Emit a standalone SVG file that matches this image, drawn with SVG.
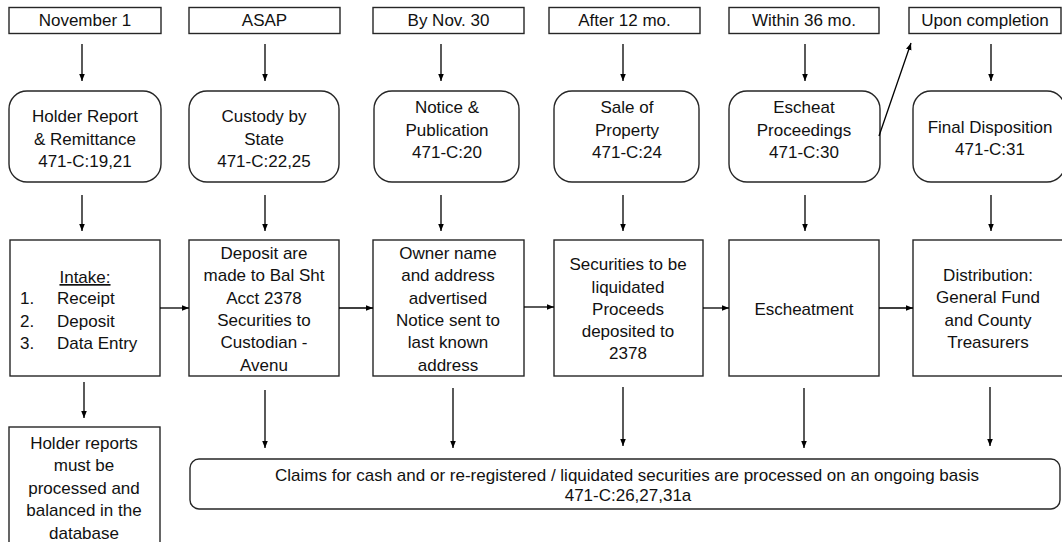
<svg xmlns="http://www.w3.org/2000/svg" width="1062" height="542" viewBox="0 0 1062 542">
<defs>
<marker id="ah" viewBox="0 0 10 10" refX="10" refY="5" markerWidth="7" markerHeight="7" markerUnits="userSpaceOnUse" orient="auto"><path d="M0,1 L10,5 L0,9 Z" fill="#000"/></marker>
<style>
.box{fill:#fff;stroke:#262626;stroke-width:1.4}
.t{font-family:"Liberation Sans",Arial,sans-serif;font-size:17px;fill:#111;text-anchor:middle}
.tl{font-family:"Liberation Sans",Arial,sans-serif;font-size:17px;fill:#111}
.c{stroke:#000;stroke-width:1.3;fill:none;marker-end:url(#ah)}
</style>
</defs>
<rect width="1062" height="542" fill="#fff"/>
<g id="top1"><rect class="box" x="9" y="7.5" width="152" height="26"/><text class="t" x="85" y="26">November 1</text></g>
<g id="top2"><rect class="box" x="189" y="7.5" width="151" height="26"/><text class="t" x="264.5" y="26">ASAP</text></g>
<g id="top3"><rect class="box" x="373" y="7.5" width="151" height="26"/><text class="t" x="448.5" y="26">By Nov. 30</text></g>
<g id="top4"><rect class="box" x="549" y="7.5" width="151" height="26"/><text class="t" x="624.5" y="26">After 12 mo.</text></g>
<g id="top5"><rect class="box" x="729" y="7.5" width="150" height="26"/><text class="t" x="804" y="26">Within 36 mo.</text></g>
<g id="top6"><rect class="box" x="909" y="7.5" width="152" height="26"/><text class="t" x="985" y="26">Upon completion</text></g>

<g id="step1"><rect class="box" x="9" y="91" width="152" height="91" rx="18"/><text class="t" x="85" y="122">Holder Report</text><text class="t" x="85" y="144.5">&amp; Remittance</text><text class="t" x="85" y="167">471-C:19,21</text></g>
<g id="step2"><rect class="box" x="189" y="91" width="150" height="91" rx="18"/><text class="t" x="264" y="122">Custody by</text><text class="t" x="264" y="144.5">State</text><text class="t" x="264" y="167">471-C:22,25</text></g>
<g id="step3"><rect class="box" x="374" y="91" width="145" height="91" rx="18"/><text class="t" x="447" y="113">Notice &amp;</text><text class="t" x="447" y="136">Publication</text><text class="t" x="447" y="158">471-C:20</text></g>
<g id="step4"><rect class="box" x="554" y="91" width="145" height="91" rx="18"/><text class="t" x="627" y="113">Sale of</text><text class="t" x="627" y="136">Property</text><text class="t" x="627" y="158">471-C:24</text></g>
<g id="step5"><rect class="box" x="729" y="91" width="151" height="91" rx="18"/><text class="t" x="804" y="113">Escheat</text><text class="t" x="804" y="136">Proceedings</text><text class="t" x="804" y="158">471-C:30</text></g>
<g id="step6"><rect class="box" x="913" y="91" width="152" height="91" rx="18"/><text class="t" x="990" y="133">Final Disposition</text><text class="t" x="990" y="155">471-C:31</text></g>

<g id="detail1"><rect class="box" x="10" y="240" width="150" height="136"/><text class="t" x="85" y="283" text-decoration="underline">Intake:</text><text class="tl" x="20" y="304">1.</text><text class="tl" x="57" y="304">Receipt</text><text class="tl" x="20" y="327">2.</text><text class="tl" x="57" y="327">Deposit</text><text class="tl" x="20" y="349">3.</text><text class="tl" x="57" y="349">Data Entry</text></g>
<g id="detail2"><rect class="box" x="189" y="240" width="150" height="136"/><text class="t" x="264" y="259">Deposit are</text><text class="t" x="264" y="281">made to Bal Sht</text><text class="t" x="264" y="304">Acct 2378</text><text class="t" x="264" y="326">Securities to</text><text class="t" x="264" y="348">Custodian -</text><text class="t" x="264" y="371">Avenu</text></g>
<g id="detail3"><rect class="box" x="373" y="240" width="151" height="136"/><text class="t" x="448" y="259">Owner name</text><text class="t" x="448" y="281">and address</text><text class="t" x="448" y="304">advertised</text><text class="t" x="448" y="326">Notice sent to</text><text class="t" x="448" y="348">last known</text><text class="t" x="448" y="371">address</text></g>
<g id="detail4"><rect class="box" x="554" y="240" width="149" height="136"/><text class="t" x="628" y="270">Securities to be</text><text class="t" x="628" y="293">liquidated</text><text class="t" x="628" y="315">Proceeds</text><text class="t" x="628" y="337">deposited to</text><text class="t" x="628" y="359">2378</text></g>
<g id="detail5"><rect class="box" x="729" y="240" width="150" height="136"/><text class="t" x="804" y="315">Escheatment</text></g>
<g id="detail6"><rect class="box" x="913" y="240" width="152" height="136"/><text class="t" x="988" y="281">Distribution:</text><text class="t" x="988" y="303">General Fund</text><text class="t" x="988" y="326">and County</text><text class="t" x="988" y="348">Treasurers</text></g>

<g id="note1"><rect class="box" x="9" y="427" width="151" height="130"/><text class="t" x="84" y="449">Holder reports</text><text class="t" x="84" y="471">must be</text><text class="t" x="84" y="494">processed and</text><text class="t" x="84" y="516">balanced in the</text><text class="t" x="84" y="539">database</text></g>
<g id="claims"><rect class="box" x="190" y="459" width="870" height="50" rx="9"/><text class="t" x="627" y="481">Claims for cash and or re-registered / liquidated securities are processed on an ongoing basis</text><text class="t" x="628" y="501">471-C:26,27,31a</text></g>

<g id="connectors">
<line class="c" x1="82" y1="44" x2="82" y2="81"/>
<line class="c" x1="265" y1="44" x2="265" y2="81"/>
<line class="c" x1="441" y1="44" x2="441" y2="81"/>
<line class="c" x1="623" y1="44" x2="623" y2="81"/>
<line class="c" x1="805" y1="44" x2="805" y2="81"/>
<line class="c" x1="991" y1="44" x2="991" y2="81"/>
<line class="c" x1="82" y1="195" x2="82" y2="231"/>
<line class="c" x1="265" y1="195" x2="265" y2="231"/>
<line class="c" x1="441" y1="195" x2="441" y2="231"/>
<line class="c" x1="623" y1="195" x2="623" y2="231"/>
<line class="c" x1="805" y1="195" x2="805" y2="231"/>
<line class="c" x1="991" y1="195" x2="991" y2="231"/>
<line class="c" x1="160" y1="308" x2="189" y2="308"/>
<line class="c" x1="339" y1="308" x2="373" y2="308"/>
<line class="c" x1="524" y1="307" x2="554" y2="307"/>
<line class="c" x1="703" y1="308" x2="729" y2="308"/>
<line class="c" x1="879" y1="308" x2="913" y2="308"/>
<line class="c" x1="84" y1="382" x2="84" y2="418"/>
<line class="c" x1="265" y1="390" x2="265" y2="448"/>
<line class="c" x1="453" y1="388" x2="453" y2="448"/>
<line class="c" x1="623" y1="387" x2="623" y2="446"/>
<line class="c" x1="804" y1="388" x2="804" y2="448"/>
<line class="c" x1="990" y1="387" x2="990" y2="446"/>
<line class="c" x1="879" y1="136" x2="911" y2="43"/>
</g>
</svg>
